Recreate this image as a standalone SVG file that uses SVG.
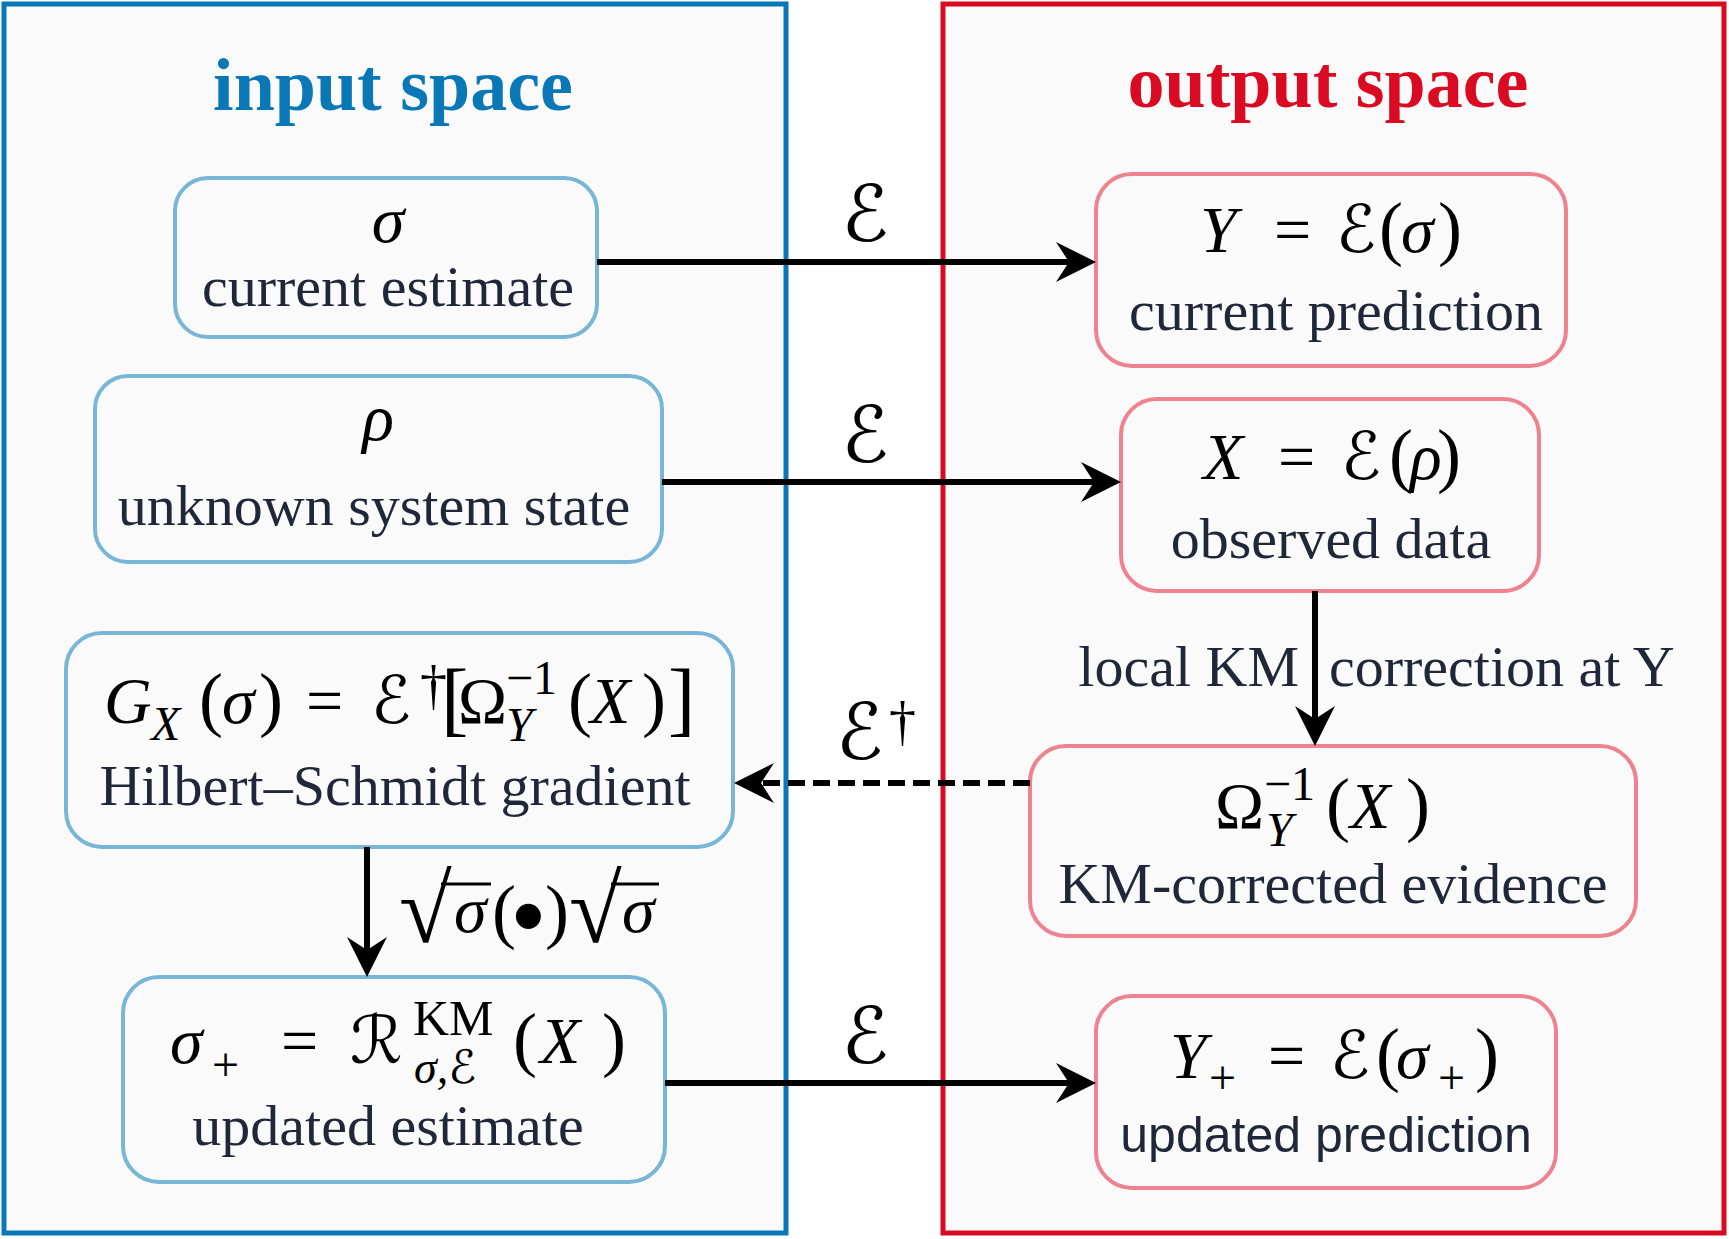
<svg xmlns="http://www.w3.org/2000/svg" width="1729" height="1239" viewBox="0 0 1729 1239">
<style>
.pin{fill:#fafafa;stroke:#0a78b7;stroke-width:5}
.pout{fill:#fafafa;stroke:#da0a22;stroke-width:5}
.nin{fill:#fafafa;stroke:#78b6d8;stroke-width:4}
.nout{fill:#fafafa;stroke:#ee838f;stroke-width:4}
.ttl{font-family:"Liberation Serif",serif;font-weight:bold;font-size:74px;text-anchor:middle}
.lbl{font-family:"Liberation Serif",serif;font-size:58px;fill:#1f2739}
.c{text-anchor:middle}
.m{font-family:"Liberation Serif","DejaVu Serif",serif;font-size:66px;fill:#000}
.i{font-style:italic}
.s{font-size:48px}
.p{font-size:72px}
.cal{font-family:"DejaVu Serif","DejaVu Sans",serif;font-style:italic}
.big{font-size:78px}
.dg{font-size:54px}
.edge{stroke:#000;stroke-width:6;fill:none}
.dash{stroke-dasharray:17 8}
</style>
<defs>
<marker id="ah" markerUnits="userSpaceOnUse" markerWidth="50" markerHeight="50" viewBox="-45 -25 50 50" refX="-27" refY="0" orient="auto">
<path d="M0,0 L-40,-20 L-27,0 L-40,20 Z" fill="#000"/>
</marker>
</defs>
<rect width="1729" height="1239" fill="#ffffff"/>
<g id="input-space">
<rect class="pin" x="4" y="4" width="782" height="1229"/>
<text class="ttl" x="393" y="110" fill="#0a78b7">input space</text>
</g>
<g id="output-space">
<rect class="pout" x="943" y="4" width="781" height="1229"/>
<text class="ttl" x="1328" y="107" fill="#da0a22">output space</text>
</g>
<g id="node-sigma">
<rect class="nin" x="175" y="178" width="422" height="159" rx="33"/>
<text class="m i c" x="388" y="242" font-size="82">σ</text>
<text class="lbl c" x="388" y="306">current estimate</text>
</g>
<g id="node-rho">
<rect class="nin" x="95" y="376" width="567" height="186" rx="33"/>
<text class="m i c" x="378" y="440" font-size="78">ρ</text>
<text class="lbl c" x="374" y="525">unknown system state</text>
</g>
<g id="node-gradient">
<rect class="nin" x="66" y="633" width="667" height="214" rx="36"/>
<text class="m">
<tspan class="i" x="104" y="723">G</tspan><tspan class="i s" x="151" y="740">X</tspan><tspan class="p" x="199" y="723">(</tspan><tspan class="i" x="222" y="723">σ</tspan><tspan class="p" x="259" y="723">)</tspan><tspan x="306" y="723">=</tspan><tspan class="cal" x="371" y="723">ℰ</tspan><tspan class="dg" x="420" y="704">†</tspan><tspan x="441" y="726" font-size="82">[</tspan><tspan x="458" y="723">Ω</tspan><tspan class="s" x="506" y="694">−1</tspan><tspan class="i s" x="506" y="741">Y</tspan><tspan class="p" x="568" y="723">(</tspan><tspan class="i" x="590" y="723">X</tspan><tspan class="p" x="642" y="723">)</tspan><tspan x="668" y="726" font-size="82">]</tspan>
</text>
<text class="lbl c" x="395" y="805">Hilbert–Schmidt gradient</text>
</g>
<g id="node-update">
<rect class="nin" x="123" y="977" width="542" height="205" rx="36"/>
<text class="m">
<tspan class="i" x="170" y="1063">σ</tspan><tspan class="s" x="212" y="1081">+</tspan><tspan x="281" y="1063">=</tspan><tspan class="cal" x="350" y="1063">ℛ</tspan><tspan font-size="50" x="413" y="1035">KM</tspan><tspan class="i" font-size="46" x="414" y="1083">σ,</tspan><tspan class="cal" font-size="46" y="1083">ℰ</tspan><tspan class="p" x="513" y="1063">(</tspan><tspan class="i" x="540" y="1063">X</tspan><tspan class="p" x="602" y="1063">)</tspan>
</text>
<text class="lbl c" x="388" y="1145">updated estimate</text>
</g>
<g id="node-prediction">
<rect class="nout" x="1096" y="174" width="470" height="192" rx="36"/>
<text class="m">
<tspan class="i" x="1200" y="252">Y</tspan><tspan x="1274" y="252">=</tspan><tspan class="cal" x="1336" y="252">ℰ</tspan><tspan class="p" x="1379" y="252">(</tspan><tspan class="i" x="1401" y="252">σ</tspan><tspan class="p" x="1438" y="252">)</tspan>
</text>
<text class="lbl c" x="1336" y="330">current prediction</text>
</g>
<g id="node-observed">
<rect class="nout" x="1121" y="399" width="418" height="192" rx="36"/>
<text class="m">
<tspan class="i" x="1203" y="479">X</tspan><tspan x="1278" y="479">=</tspan><tspan class="cal" x="1341" y="479">ℰ</tspan><tspan class="p" x="1389" y="479">(</tspan><tspan class="i" x="1410" y="479">ρ</tspan><tspan class="p" x="1437" y="479">)</tspan>
</text>
<text class="lbl c" x="1331" y="558">observed data</text>
</g>
<g id="node-evidence">
<rect class="nout" x="1030" y="746" width="606" height="190" rx="36"/>
<text class="m">
<tspan x="1215" y="828">Ω</tspan><tspan class="s" x="1264" y="800">−1</tspan><tspan class="i s" x="1266" y="846">Y</tspan><tspan class="p" x="1326" y="828">(</tspan><tspan class="i" x="1350" y="828">X</tspan><tspan class="p" x="1406" y="828">)</tspan>
</text>
<text class="lbl c" x="1333" y="903">KM-corrected evidence</text>
</g>
<g id="node-updated-prediction">
<rect class="nout" x="1096" y="996" width="460" height="192" rx="36"/>
<text class="m">
<tspan class="i" x="1170" y="1078">Y</tspan><tspan class="s" x="1209" y="1094">+</tspan><tspan x="1268" y="1078">=</tspan><tspan class="cal" x="1330" y="1078">ℰ</tspan><tspan class="p" x="1376" y="1078">(</tspan><tspan class="i" x="1396" y="1078">σ</tspan><tspan class="s" x="1438" y="1094">+</tspan><tspan class="p" x="1475" y="1078">)</tspan>
</text>
<text x="1326" y="1152" font-family="'Liberation Sans',Arial,sans-serif" font-size="50" fill="#1f2739" text-anchor="middle">updated prediction</text>
</g>
<g id="connectors">
<path class="edge" d="M597,262 L1069,262" marker-end="url(#ah)"/>
<path class="edge" d="M662,482 L1094,482" marker-end="url(#ah)"/>
<path class="edge" d="M1315,591 L1315,719" marker-end="url(#ah)"/>
<path class="edge dash" d="M1030,783 L761,783" marker-end="url(#ah)"/>
<path class="edge" d="M367,847 L367,950" marker-end="url(#ah)"/>
<path class="edge" d="M665,1083 L1069,1083" marker-end="url(#ah)"/>
<text class="m cal big c" x="865" y="241">ℰ</text>
<text class="m cal big c" x="865" y="462">ℰ</text>
<text class="m cal big c" x="865" y="1063">ℰ</text>
<text class="m"><tspan class="cal big" x="836" y="759">ℰ</tspan><tspan class="dg" x="889" y="740">†</tspan></text>
<text class="lbl"><tspan x="1299" y="686" text-anchor="end">local KM</tspan><tspan x="1329" y="686">correction at Y</tspan></text>
<text class="m"><tspan x="399" y="942" font-size="96">√</tspan><tspan class="i" x="454" y="932">σ</tspan><tspan class="p" x="492" y="935">(</tspan><tspan x="510" y="951" font-size="105">•</tspan><tspan class="p" x="545" y="935">)</tspan><tspan x="569" y="942" font-size="96">√</tspan><tspan class="i" x="622" y="932">σ</tspan></text>
<path d="M441,884 H491 M611,884 H659" stroke="#000" stroke-width="3"/>
</g>
</svg>
